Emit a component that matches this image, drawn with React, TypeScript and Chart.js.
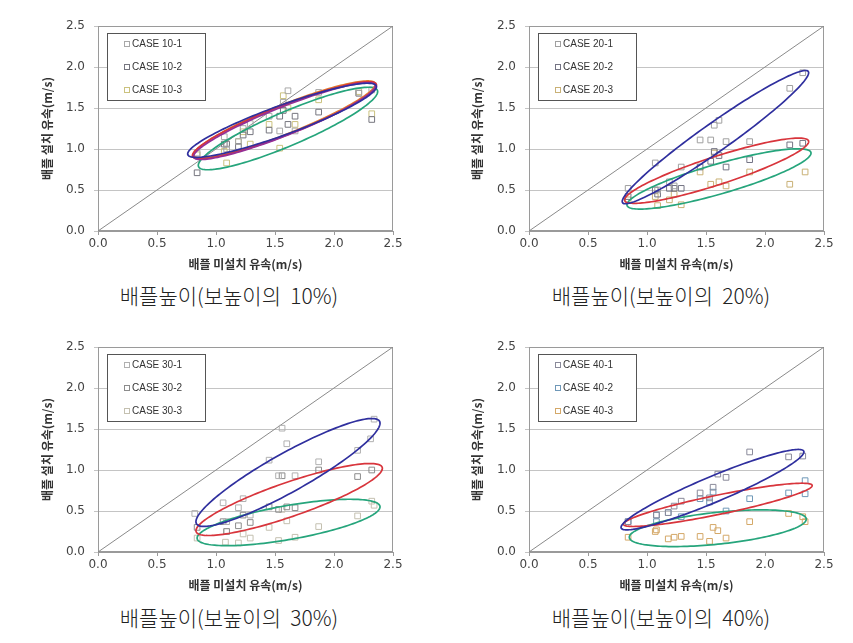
import React, { useEffect, useRef } from "react";
import { Chart, registerables } from "chart.js";
Chart.register(...registerables);

// ---------- shared ----------
const AXIS_MIN = 0;
const AXIS_MAX = 2.5;
const AXIS_STEP = 0.5;
const DIAG = [0, 2.5];
const X_TITLE = "배플 미설치 유속(m/s)";
const Y_TITLE = "배플 설치 유속(m/s)";
const CAPTIONS = [
  "배플높이(보높이의  10%)",
  "배플높이(보높이의  20%)",
  "배플높이(보높이의  30%)",
  "배플높이(보높이의  40%)",
];
const ELLIPSE_COLORS = { blue: "#2f2f9e", red: "#d8353c", green: "#26a57c", purple: "#952f96", orange: "#e0782e" };

// ---------- 10% ----------
const LABELS_10 = ["CASE 10-1", "CASE 10-2", "CASE 10-3"];
const COLORS_10 = ["#a8a8a8", "#76767f", "#cbc27e"];
const C10_1_X = [0.84, 1.07, 1.09, 1.19, 1.23, 1.29, 1.45, 1.54, 1.57, 1.61, 1.67, 1.87, 2.21, 2.32];
const C10_1_Y = [0.95, 1.15, 1.0, 1.09, 1.25, 1.31, 1.4, 1.22, 1.57, 1.71, 1.22, 1.69, 1.68, 1.72];
const C10_2_X = [0.84, 1.07, 1.09, 1.19, 1.23, 1.29, 1.45, 1.54, 1.57, 1.61, 1.67, 1.87, 2.21, 2.32];
const C10_2_Y = [0.71, 1.06, 1.06, 1.03, 1.17, 1.21, 1.23, 1.4, 1.47, 1.3, 1.4, 1.45, 1.68, 1.36];
const C10_3_X = [0.84, 1.07, 1.09, 1.19, 1.23, 1.29, 1.45, 1.54, 1.57, 1.61, 1.67, 1.87, 2.21, 2.32];
const C10_3_Y = [0.93, 0.97, 0.83, 1.09, 1.21, 1.06, 1.3, 1.01, 1.65, 1.5, 1.3, 1.6, 1.7, 1.43];
// ellipses: [colour, cx, cy, ax, ay, h]
const ELL_10 = [
  ["green", 1.61, 1.25, 0.76, 0.45, 0.225],
  ["orange", 1.58, 1.36, 0.77, 0.43, 0.19],
  ["red", 1.58, 1.35, 0.78, 0.43, 0.19],
  ["purple", 1.58, 1.34, 0.77, 0.43, 0.185],
  ["blue", 1.56, 1.35, 0.8, 0.41, 0.19],
];

// ---------- 20% ----------
const LABELS_20 = ["CASE 20-1", "CASE 20-2", "CASE 20-3"];
const COLORS_20 = ["#a0a0a0", "#747484", "#c9b176"];
const C20_1_X = [0.84, 1.07, 1.09, 1.19, 1.23, 1.29, 1.45, 1.54, 1.57, 1.61, 1.67, 1.87, 2.21, 2.32];
const C20_1_Y = [0.52, 0.83, 0.5, 0.6, 0.55, 0.78, 1.11, 1.11, 1.29, 1.35, 1.09, 1.09, 1.74, 1.93];
const C20_2_X = [0.84, 1.07, 1.09, 1.19, 1.23, 1.29, 1.45, 1.54, 1.57, 1.61, 1.67, 1.87, 2.21, 2.32];
const C20_2_Y = [0.42, 0.5, 0.45, 0.52, 0.52, 0.52, 0.78, 0.85, 0.97, 0.92, 0.78, 0.87, 1.05, 1.07];
const C20_3_X = [0.84, 1.07, 1.09, 1.19, 1.23, 1.29, 1.45, 1.54, 1.57, 1.61, 1.67, 1.87, 2.21, 2.34];
const C20_3_Y = [0.38, 0.42, 0.31, 0.38, 0.45, 0.32, 0.72, 0.57, 0.95, 0.6, 0.55, 0.72, 0.57, 0.72];
const ELL_20 = [
  ["green", 1.61, 0.635, 0.78, 0.315, 0.19],
  ["red", 1.59, 0.735, 0.78, 0.355, 0.18],
  ["blue", 1.58, 1.145, 0.79, 0.785, 0.21],
];

// ---------- 30% ----------
const LABELS_30 = ["CASE 30-1", "CASE 30-2", "CASE 30-3"];
const COLORS_30 = ["#b0b0b0", "#8c8c8c", "#c4c0b0"];
const C30_1_X = [0.82, 1.06, 1.09, 1.19, 1.23, 1.29, 1.45, 1.53, 1.56, 1.6, 1.67, 1.87, 2.2, 2.31, 2.34];
const C30_1_Y = [0.47, 0.6, 0.37, 0.54, 0.65, 0.45, 1.12, 0.93, 1.51, 1.32, 0.93, 1.1, 1.24, 1.38, 1.62];
const C30_2_X = [0.84, 1.06, 1.09, 1.19, 1.23, 1.29, 1.45, 1.53, 1.56, 1.6, 1.67, 1.87, 2.2, 2.32];
const C30_2_Y = [0.3, 0.37, 0.25, 0.32, 0.45, 0.36, 0.55, 0.52, 0.93, 0.55, 0.54, 1.0, 0.92, 1.0];
const C30_3_X = [0.84, 1.08, 1.09, 1.19, 1.23, 1.29, 1.45, 1.53, 1.56, 1.6, 1.67, 1.87, 2.2, 2.32, 2.34];
const C30_3_Y = [0.17, 0.12, 0.25, 0.11, 0.22, 0.17, 0.3, 0.14, 0.52, 0.38, 0.18, 0.31, 0.44, 0.62, 0.57];
const ELL_30 = [
  ["green", 1.615, 0.36, 0.775, 0.19, 0.21],
  ["red", 1.62, 0.64, 0.79, 0.38, 0.22],
  ["blue", 1.61, 0.97, 0.78, 0.6, 0.27],
];

// ---------- 40% ----------
const LABELS_40 = ["CASE 40-1", "CASE 40-2", "CASE 40-3"];
const COLORS_40 = ["#8a8a9a", "#6f98b8", "#d4a868"];
const C40_1_X = [0.84, 1.08, 1.18, 1.23, 1.29, 1.45, 1.53, 1.56, 1.6, 1.67, 1.87, 2.2, 2.32];
const C40_1_Y = [0.37, 0.45, 0.48, 0.56, 0.62, 0.72, 0.66, 0.79, 0.95, 0.91, 1.22, 1.16, 1.17];
const C40_2_X = [0.84, 1.08, 1.08, 1.18, 1.29, 1.45, 1.53, 1.56, 1.67, 1.87, 2.2, 2.34, 2.34];
const C40_2_Y = [0.37, 0.45, 0.37, 0.48, 0.43, 0.65, 0.61, 0.73, 0.5, 0.65, 0.72, 0.87, 0.71];
const C40_3_X = [0.84, 1.07, 1.08, 1.18, 1.23, 1.29, 1.45, 1.53, 1.56, 1.6, 1.67, 1.87, 2.2, 2.32, 2.34];
const C40_3_Y = [0.18, 0.25, 0.27, 0.16, 0.18, 0.19, 0.19, 0.13, 0.3, 0.26, 0.17, 0.37, 0.47, 0.43, 0.37];
const ELL_40 = [
  ["green", 1.6, 0.29, 0.75, 0.11, 0.195],
  ["red", 1.6, 0.575, 0.8, 0.235, 0.12],
  ["blue", 1.555, 0.76, 0.775, 0.46, 0.17],
];

const zip = (xs: number[], ys: number[]) => xs.map((x, i) => ({ x, y: ys[i] }));

const PANELS = [
  { left: 0, top: 0, width: 425, yw: 98, labels: LABELS_10, colors: COLORS_10, xs: [C10_1_X, C10_2_X, C10_3_X], ys: [C10_1_Y, C10_2_Y, C10_3_Y], ell: ELL_10, caption: CAPTIONS[0], cx: 229, cy: 295 },
  { left: 430, top: 0, width: 423, yw: 99, labels: LABELS_20, colors: COLORS_20, xs: [C20_1_X, C20_2_X, C20_3_X], ys: [C20_1_Y, C20_2_Y, C20_3_Y], ell: ELL_20, caption: CAPTIONS[1], cx: 661, cy: 295 },
  { left: 0, top: 321, width: 425, yw: 98, labels: LABELS_30, colors: COLORS_30, xs: [C30_1_X, C30_2_X, C30_3_X], ys: [C30_1_Y, C30_2_Y, C30_3_Y], ell: ELL_30, caption: CAPTIONS[2], cx: 229, cy: 617 },
  { left: 430, top: 321, width: 423, yw: 99, labels: LABELS_40, colors: COLORS_40, xs: [C40_1_X, C40_2_X, C40_3_X], ys: [C40_1_Y, C40_2_Y, C40_3_Y], ell: ELL_40, caption: CAPTIONS[3], cx: 661, cy: 617 },
];

const CANVAS_H = 280;

const framePlugin = {
  id: "frame",
  beforeDatasetsDraw(chart: any) {
    const { ctx, chartArea: a } = chart;
    ctx.save();
    ctx.strokeStyle = "#9a9a9a";
    ctx.lineWidth = 1;
    ctx.strokeRect(Math.round(a.left) + 0.5, Math.round(a.top) + 0.5, Math.round(a.width) - 1, Math.round(a.height) - 1);
    ctx.restore();
  },
};

const ellipsePlugin = {
  id: "ellipses",
  afterDatasetsDraw(chart: any, _args: any, opts: any) {
    const { ctx, chartArea: a, scales } = chart;
    const xs = scales.x, ys = scales.y;
    ctx.save();
    ctx.beginPath();
    ctx.rect(a.left, a.top, a.width, a.height);
    ctx.clip();
    for (const e of opts.items || []) {
      const [color, cx, cy, ax, ay, h] = e;
      ctx.beginPath();
      const n = 160;
      for (let i = 0; i <= n; i++) {
        const t = (i / n) * Math.PI * 2;
        const vx = cx + ax * Math.cos(t);
        const vy = cy + ay * Math.cos(t) + h * Math.sin(t);
        const px = xs.getPixelForValue(vx);
        const py = ys.getPixelForValue(vy);
        if (i === 0) ctx.moveTo(px, py);
        else ctx.lineTo(px, py);
      }
      ctx.closePath();
      ctx.strokeStyle = (ELLIPSE_COLORS as any)[color];
      ctx.lineWidth = 1.7;
      ctx.stroke();
    }
    ctx.restore();
  },
};

const boxLegendPlugin = {
  id: "boxLegend",
  afterDraw(chart: any) {
    const { ctx, chartArea: a } = chart;
    const x0 = Math.round(a.left) + 9;
    const y0 = Math.round(a.top) + 7;
    const w = 98, h = 67;
    ctx.save();
    ctx.fillStyle = "#ffffff";
    ctx.fillRect(x0, y0, w, h);
    ctx.strokeStyle = "#555555";
    ctx.lineWidth = 1;
    ctx.strokeRect(x0 + 0.5, y0 + 0.5, w, h);
    const items = chart.data.datasets.filter((d: any) => d.isCase);
    items.forEach((d: any, i: number) => {
      const cy = y0 + 11 + i * 23;
      ctx.strokeStyle = d.borderColor;
      ctx.strokeRect(x0 + 17.5, cy - 2.5, 5, 5);
      ctx.fillStyle = "#333333";
      ctx.font = '10px "Liberation Sans"';
      ctx.textBaseline = "middle";
      ctx.textAlign = "left";
      ctx.fillText(d.label, x0 + 25, cy + 0.5);
    });
    ctx.restore();
  },
};

function Panel({ p }: { p: any }) {
  const ref = useRef<HTMLCanvasElement>(null);
  useEffect(() => {
    const datasets: any[] = p.labels.map((label: string, i: number) => ({
      label,
      isCase: true,
      data: zip(p.xs[i], p.ys[i]),
      pointStyle: "rect",
      pointRadius: 4,
      pointBorderWidth: 1,
      borderColor: p.colors[i],
      pointBorderColor: p.colors[i],
      backgroundColor: "rgba(0,0,0,0)",
      pointBackgroundColor: "rgba(0,0,0,0)",
      showLine: false,
    }));
    datasets.push({
      label: "diag",
      type: "line",
      data: zip(DIAG, DIAG),
      borderColor: "#8a8a8a",
      borderWidth: 1,
      pointRadius: 0,
      fill: false,
    });
    const tickFont = { family: "DejaVu Sans", size: 12 };
    const titleFont = { family: "Noto Sans CJK KR", size: 12, weight: "bold" };
    const chart = new Chart(ref.current as HTMLCanvasElement, {
      type: "scatter",
      data: { datasets },
      plugins: [framePlugin, ellipsePlugin, boxLegendPlugin],
      options: {
        responsive: false,
        animation: false,
        layout: { padding: { top: 26, right: p.width - (p.yw + 295), bottom: 0, left: 0 } },
        plugins: {
          legend: { display: false },
          tooltip: { enabled: false },
          ellipses: { items: p.ell },
        } as any,
        scales: {
          x: {
            type: "linear",
            min: AXIS_MIN,
            max: AXIS_MAX,
            ticks: { stepSize: AXIS_STEP, font: tickFont, color: "#444", padding: 2, callback: (v: any) => Number(v).toFixed(1) },
            grid: { drawOnChartArea: false, tickLength: 4, color: "#9a9a9a" },
            border: { color: "#9a9a9a" },
            title: { display: true, text: X_TITLE, font: titleFont, color: "#333", padding: { top: 8, bottom: 8 } },
            afterFit: (s: any) => { s.height = 49; },
          },
          y: {
            type: "linear",
            min: AXIS_MIN,
            max: AXIS_MAX,
            ticks: { stepSize: AXIS_STEP, font: tickFont, color: "#444", padding: 9, callback: (v: any) => Number(v).toFixed(1) },
            grid: { color: "#c4c4c4", tickLength: 4 },
            border: { color: "#9a9a9a" },
            title: { display: true, text: Y_TITLE, font: titleFont, color: "#333", padding: { top: 40, bottom: 40 } },
            afterFit: (s: any) => { s.width = p.yw; },
          },
        },
      } as any,
    });
    return () => chart.destroy();
  }, []);
  return (
    <>
      <canvas
        ref={ref}
        width={p.width}
        height={CANVAS_H}
        style={{ position: "absolute", left: p.left, top: p.top, width: p.width, height: CANVAS_H }}
      />
      <div
        style={{
          position: "absolute",
          left: p.cx - 150,
          top: p.cy - 15,
          width: 300,
          height: 30,
          lineHeight: "30px",
          textAlign: "center",
          whiteSpace: "pre",
          fontFamily: '"Noto Sans CJK KR", sans-serif',
          fontWeight: 300,
          fontSize: 21,
          color: "#222",
        }}
      >
        {p.caption}
      </div>
    </>
  );
}

export default function App() {
  return (
    <div style={{ position: "absolute", left: 0, top: 0, width: 853, height: 643, background: "#fff", overflow: "hidden" }}>
      {PANELS.map((p, i) => (
        <Panel key={i} p={p} />
      ))}
    </div>
  );
}
